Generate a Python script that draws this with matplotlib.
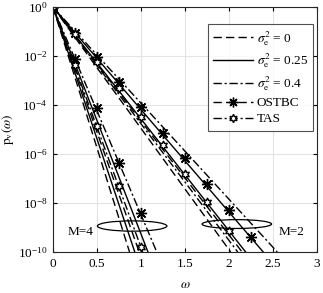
import numpy as np
import matplotlib
matplotlib.use("Agg")
import matplotlib.pyplot as plt
from matplotlib.lines import Line2D
from matplotlib.patches import Ellipse

plt.rcParams["font.family"] = ["Liberation Serif", "DejaVu Serif"]
plt.rcParams["mathtext.fontset"] = "stix"

# --- analytical curves: each is a straight line in log-y, (omega, p) endpoints ---
# M = 4
m4_tas_s0 = ([0, 0.87], [1, 1e-10])
m4_tas_s25 = ([0, 0.93], [1, 1e-10])
m4_tas_s40 = ([0, 1.02], [1, 1e-10])
m4_ostbc_s0 = ([0, 0.98], [1, 1e-10])
m4_ostbc_s25 = ([0, 1.08], [1, 1e-10])
m4_ostbc_s40 = ([0, 1.18], [1, 1e-10])
# M = 2
m2_tas_s0 = ([0, 2.02], [1, 1e-10])
m2_tas_s25 = ([0, 2.19], [1, 1e-10])
m2_tas_s40 = ([0, 2.10], [1, 1e-10])
m2_ostbc_s0 = ([0, 2.15], [1, 1e-10])
m2_ostbc_s25 = ([0, 2.39], [1, 1e-10])
m2_ostbc_s40 = ([0, 2.55], [1, 1e-10])

# --- simulation markers ---
m4_w = [0, 0.25, 0.5, 0.75, 1.0]
m4_ostbc_pts = [1, 10**-2.14, 10**-4.12, 10**-6.36, 10**-8.42]
m4_tas_pts = [1, 10**-2.37, 10**-4.86, 10**-7.31, 10**-9.78]
m2_w = [0, 0.25, 0.5, 0.75, 1.0, 1.25, 1.5, 1.75, 2.0, 2.25]
m2_ostbc_pts = [1, 10**-1.04, 10**-2.05, 10**-3.05, 10**-4.1, 10**-5.15,
                10**-6.18, 10**-7.24, 10**-8.29, 10**-9.4]
m2_tas_pts = [1, 10**-1.12, 10**-2.23, 10**-3.32, 10**-4.48, 10**-5.65,
              10**-6.82, 10**-7.97, 10**-9.14]

legend_labels = [r"$\sigma_{\rm e}^2$ = 0", r"$\sigma_{\rm e}^2$ = 0.25",
                 r"$\sigma_{\rm e}^2$ = 0.4", "OSTBC", "TAS"]

dash = (0, (6, 3))
dashdot = (0, (6, 2, 1.5, 2))
lw = 1.0
fs = 9.5

fig = plt.figure(figsize=(3.23, 2.93), dpi=100)
ax = fig.add_axes([0.164, 0.140, 0.817, 0.836])

for (s0, s25, s40) in [(m4_tas_s0, m4_tas_s25, m4_tas_s40),
                       (m4_ostbc_s0, m4_ostbc_s25, m4_ostbc_s40),
                       (m2_tas_s0, m2_tas_s25, m2_tas_s40),
                       (m2_ostbc_s0, m2_ostbc_s25, m2_ostbc_s40)]:
    ax.semilogy(*s0, color="k", lw=lw, linestyle=dash)
    ax.semilogy(*s25, color="k", lw=lw, linestyle="-")
    ax.semilogy(*s40, color="k", lw=lw, linestyle=dashdot)

star8 = (8, 2, 0)
hexa = (6, 1, 0)
ax.semilogy(m4_w, m4_ostbc_pts, ls="none", marker=star8, ms=8, mew=1.0, color="k")
ax.semilogy(m2_w, m2_ostbc_pts, ls="none", marker=star8, ms=8, mew=1.0, color="k")
ax.semilogy(m4_w, m4_tas_pts, ls="none", marker=hexa, ms=6.5, mew=1.0, color="k", mfc="white")
ax.semilogy(m2_w[:len(m2_tas_pts)], m2_tas_pts, ls="none", marker=hexa, ms=6.5, mew=1.0,
            color="k", mfc="white")

ax.set_xlim(0, 3)
ax.set_ylim(1e-10, 1e0)
ax.set_xticks([0, 0.5, 1, 1.5, 2, 2.5, 3])
ax.set_xticklabels(["0", "0.5", "1", "1.5", "2", "2.5", "3"])
ax.set_yticks([1e-10, 1e-8, 1e-6, 1e-4, 1e-2, 1e0])
ax.yaxis.set_minor_locator(matplotlib.ticker.NullLocator())
ax.grid(True, color="#e3e3e3", lw=0.8)
ax.set_axisbelow(True)
ax.tick_params(direction="in", top=True, right=True, labelsize=fs, length=3, pad=4)
for sp in ax.spines.values():
    sp.set_linewidth(0.8)
    sp.set_color("#262626")

ax.set_xlabel(r"$\omega$", fontsize=fs, labelpad=7)
ax.set_ylabel(r"$\mathrm{p}_{\rm v}(\omega)$", fontsize=fs, labelpad=1)

# ellipses marking the groups (axes coords)
ax.add_patch(Ellipse((0.90 / 3, 0.106), 0.79 / 3, 0.042, transform=ax.transAxes,
                     fill=False, lw=0.9, color="k"))
ax.add_patch(Ellipse((2.09 / 3, 0.114), 0.79 / 3, 0.036, transform=ax.transAxes,
                     fill=False, lw=0.9, color="k"))
ax.text(0.31 / 3, 0.08, "M=4", transform=ax.transAxes, fontsize=fs, ha="center", va="center")
ax.text(2.71 / 3, 0.083, "M=2", transform=ax.transAxes, fontsize=fs, ha="center", va="center")

handles = [
    Line2D([], [], color="k", lw=lw, linestyle=dash),
    Line2D([], [], color="k", lw=lw, linestyle="-"),
    Line2D([], [], color="k", lw=lw, linestyle=dashdot),
    Line2D([], [], color="k", lw=lw, linestyle=dash, marker=star8, ms=7),
    Line2D([], [], color="k", lw=lw, linestyle=dashdot, marker=hexa, ms=6, mfc="white"),
]
leg = ax.legend(handles, legend_labels, loc="upper right", bbox_to_anchor=(0.986, 0.932),
                fontsize=fs, frameon=True, fancybox=False, edgecolor="#262626",
                handlelength=3.0, handletextpad=0.3, labelspacing=0.3,
                borderpad=0.4, borderaxespad=0)
leg.get_frame().set_linewidth(0.8)

fig.savefig("out.png", dpi=100)
